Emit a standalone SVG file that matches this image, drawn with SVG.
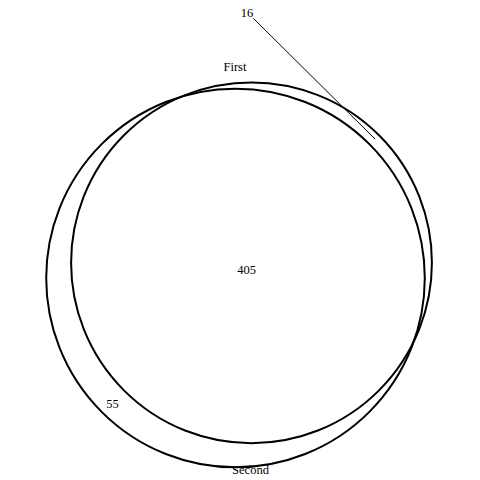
<svg xmlns="http://www.w3.org/2000/svg" width="480" height="480" viewBox="0 0 480 480">
<style>
.c{fill:none;stroke:#000;stroke-width:2}
.t{font-family:"Liberation Serif","Times New Roman",serif;font-size:12.5px;fill:#000;text-anchor:middle}
.l{stroke:#000;stroke-width:1;fill:none}
</style>
<rect width="480" height="480" fill="#fff"/>
<g id="first">
<circle class="c" cx="251.5" cy="262.8" r="180.4"/>
<text class="t" x="235" y="71">First</text>
</g>
<g id="second">
<circle class="c" cx="235.5" cy="278" r="189.3"/>
<text class="t" x="250.5" y="474">Second</text>
</g>
<g id="regions">
<text class="t" x="246.7" y="274">405</text>
<text class="t" x="112.5" y="408">55</text>
<text class="t" x="247" y="17">16</text>
</g>
<g id="connectors">
<line class="l" x1="253.3" y1="18.3" x2="375" y2="139"/>
</g>
</svg>
